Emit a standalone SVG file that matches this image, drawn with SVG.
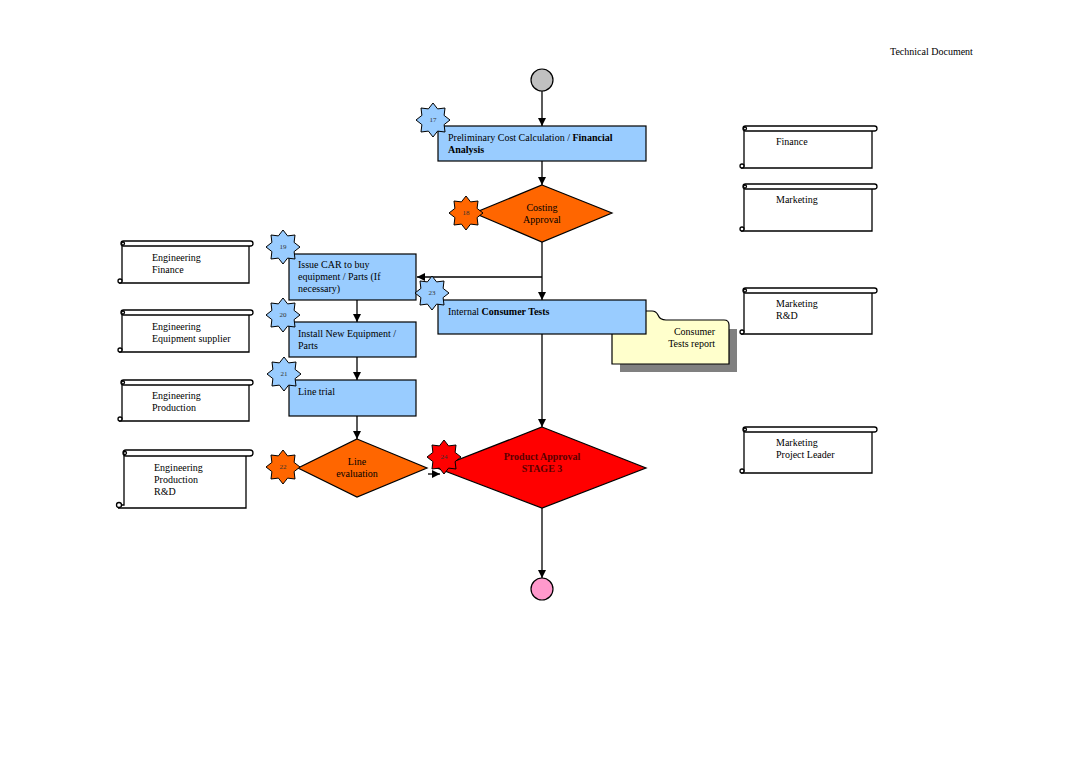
<svg xmlns="http://www.w3.org/2000/svg" width="1080" height="764" viewBox="0 0 1080 764">
<style>
text{font-family:"Liberation Serif","Times New Roman",serif;font-size:10px;fill:#000}
.b{font-weight:bold}
.num{font-size:7px;fill:#333;text-anchor:middle}
.c{text-anchor:middle}
.box{fill:#99ccff;stroke:#000;stroke-width:1.2}
.star{stroke:#000;stroke-width:1}
.scroll{fill:#fff;stroke:#000;stroke-width:1.3}
.con{stroke:#000;stroke-width:1.3;fill:none;marker-end:url(#ah)}
</style>
<defs>
<marker id="ah" markerWidth="10" markerHeight="10" refX="8" refY="4" orient="auto" markerUnits="userSpaceOnUse">
<path d="M0,0 L8,4 L0,8 Z" fill="#000"/>
</marker>
<polygon id="st" points="0,-17 4.6,-11.1 12,-12 11.1,-4.6 17,0 11.1,4.6 12,12 4.6,11.1 0,17 -4.6,11.1 -12,12 -11.1,4.6 -17,0 -11.1,-4.6 -12,-12 -4.6,-11.1"/>
</defs>
<rect width="1080" height="764" fill="#fff"/>
<text x="890" y="55">Technical Document</text>

<g id="connectors">
<line class="con" x1="542" y1="91" x2="542" y2="126"/>
<line class="con" x1="542" y1="161" x2="542" y2="185"/>
<line class="con" x1="542" y1="242" x2="542" y2="300"/>
<line class="con" x1="542" y1="277" x2="417" y2="277"/>
<line class="con" x1="357" y1="300" x2="357" y2="322"/>
<line class="con" x1="357" y1="357" x2="357" y2="380"/>
<line class="con" x1="357" y1="416" x2="357" y2="439"/>
<line class="con" x1="428" y1="474" x2="440" y2="474"/>
<line class="con" x1="542" y1="334" x2="542" y2="427"/>
<line class="con" x1="542" y1="508" x2="542" y2="578"/>
</g>

<g id="start"><circle cx="542" cy="80" r="11" fill="#c0c0c0" stroke="#000" stroke-width="1.2"/></g>

<g id="n17">
<rect class="box" x="438" y="126" width="208" height="35"/>
<text x="448" y="141">Preliminary Cost Calculation / <tspan class="b">Financial</tspan></text>
<text x="448" y="153" class="b">Analysis</text>
<use href="#st" x="433" y="120" fill="#99ccff" class="star"/>
<text x="433" y="122" class="num">17</text>
</g>

<g id="n18">
<polygon points="542,185 612,213 542,242 474,213" fill="#ff6600" stroke="#000" stroke-width="1.2"/>
<text x="542" y="211" class="c">Costing</text>
<text x="542" y="223" class="c">Approval</text>
<use href="#st" x="466" y="213" fill="#ff6600" class="star"/>
<text x="466" y="215" class="num">18</text>
</g>

<g id="n19">
<rect class="box" x="289" y="254" width="127" height="46"/>
<text x="298" y="268">Issue CAR to buy</text>
<text x="298" y="280">equipment / Parts (If</text>
<text x="298" y="292">necessary)</text>
<use href="#st" x="283" y="247" fill="#99ccff" class="star"/>
<text x="283" y="249" class="num">19</text>
</g>

<g id="n20">
<rect class="box" x="289" y="322" width="127" height="35"/>
<text x="298" y="337">Install New Equipment /</text>
<text x="298" y="349">Parts</text>
<use href="#st" x="283" y="315" fill="#99ccff" class="star"/>
<text x="283" y="317" class="num">20</text>
</g>

<g id="n21">
<rect class="box" x="289" y="380" width="127" height="36"/>
<text x="298" y="395">Line trial</text>
<use href="#st" x="284" y="374" fill="#99ccff" class="star"/>
<text x="284" y="376" class="num">21</text>
</g>

<g id="n22">
<polygon points="357,439 427,468 357,497 298,468" fill="#ff6600" stroke="#000" stroke-width="1.2"/>
<text x="357" y="465" class="c">Line</text>
<text x="357" y="477" class="c">evaluation</text>
<use href="#st" x="283" y="467" fill="#ff6600" class="star"/>
<text x="283" y="469" class="num">22</text>
</g>

<g id="report">
<path d="M620,320 H654 L660,329 H737 V372 H620 Z" fill="#808080"/>
<path d="M612,311 H652 Q656,311 658,315 Q660,320 666,320 H724 Q729,320 729,325 V364 H612 Z" fill="#ffffcc" stroke="#000" stroke-width="1.2"/>
<text x="715" y="335" text-anchor="end">Consumer</text>
<text x="715" y="347" text-anchor="end">Tests report</text>
</g>

<g id="n23">
<rect class="box" x="438" y="300" width="208" height="34"/>
<text x="448" y="315">Internal <tspan class="b">Consumer Tests</tspan></text>
<use href="#st" x="432" y="293" fill="#99ccff" class="star"/>
<text x="432" y="295" class="num">23</text>
</g>

<g id="n24">
<polygon points="542,427 646,468 542,508 437,468" fill="#ff0000" stroke="#000" stroke-width="1.2"/>
<text x="542" y="460" class="c b" fill="#5a0000" style="fill:#5a0000">Product Approval</text>
<text x="542" y="472" class="c b" style="fill:#5a0000">STAGE 3</text>
<use href="#st" x="444" y="457" fill="#ff0000" class="star"/>
<text x="444" y="459" class="num">24</text>
</g>

<g id="end"><circle cx="542" cy="589" r="11" fill="#ff99cc" stroke="#000" stroke-width="1.2"/></g>

<g id="s1">
<path class="scroll" d="M122,246 V281 H119 M119,283 H249 V246"/>
<rect class="scroll" x="121" y="241" width="132" height="5" rx="2.5"/>
<circle class="scroll" cx="123" cy="243.5" r="1.5"/><circle class="scroll" cx="120" cy="281" r="2"/>
<text x="152" y="261">Engineering</text><text x="152" y="273">Finance</text>
</g>
<g id="s2">
<path class="scroll" d="M122,315 V350 H119 M119,352 H249 V315"/>
<rect class="scroll" x="121" y="310" width="132" height="5" rx="2.5"/>
<circle class="scroll" cx="123" cy="312.5" r="1.5"/><circle class="scroll" cx="120" cy="350" r="2"/>
<text x="152" y="330">Engineering</text><text x="152" y="342">Equipment supplier</text>
</g>
<g id="s3">
<path class="scroll" d="M122,385 V419 H119 M119,421 H249 V385"/>
<rect class="scroll" x="121" y="380" width="132" height="5" rx="2.5"/>
<circle class="scroll" cx="123" cy="382.5" r="1.5"/><circle class="scroll" cx="120" cy="419" r="2"/>
<text x="152" y="399">Engineering</text><text x="152" y="411">Production</text>
</g>
<g id="s4">
<path class="scroll" d="M124,456 V505 H119 M118,508 H246 V456"/>
<rect class="scroll" x="123" y="450" width="130" height="6" rx="3"/>
<circle class="scroll" cx="125" cy="453" r="1.5"/><circle class="scroll" cx="119" cy="505" r="2.5"/>
<text x="154" y="471">Engineering</text><text x="154" y="483">Production</text><text x="154" y="495">R&amp;D</text>
</g>

<g id="s5">
<path class="scroll" d="M744,131 V166 H741 M741,168 H872 V131"/>
<rect class="scroll" x="743" y="126" width="134" height="5" rx="2.5"/>
<circle class="scroll" cx="745" cy="128.5" r="1.5"/><circle class="scroll" cx="742" cy="166" r="2"/>
<text x="776" y="145">Finance</text>
</g>
<g id="s6">
<path class="scroll" d="M744,189 V229 H741 M741,231 H872 V189"/>
<rect class="scroll" x="743" y="184" width="134" height="5" rx="2.5"/>
<circle class="scroll" cx="745" cy="186.5" r="1.5"/><circle class="scroll" cx="742" cy="229" r="2"/>
<text x="776" y="203">Marketing</text>
</g>
<g id="s7">
<path class="scroll" d="M744,293 V332 H741 M741,334 H872 V293"/>
<rect class="scroll" x="743" y="288" width="134" height="5" rx="2.5"/>
<circle class="scroll" cx="745" cy="290.5" r="1.5"/><circle class="scroll" cx="742" cy="332" r="2"/>
<text x="776" y="307">Marketing</text><text x="776" y="319">R&amp;D</text>
</g>
<g id="s8">
<path class="scroll" d="M744,432 V471 H741 M741,473 H872 V432"/>
<rect class="scroll" x="743" y="427" width="134" height="5" rx="2.5"/>
<circle class="scroll" cx="745" cy="429.5" r="1.5"/><circle class="scroll" cx="742" cy="471" r="2"/>
<text x="776" y="446">Marketing</text><text x="776" y="458">Project Leader</text>
</g>
</svg>
